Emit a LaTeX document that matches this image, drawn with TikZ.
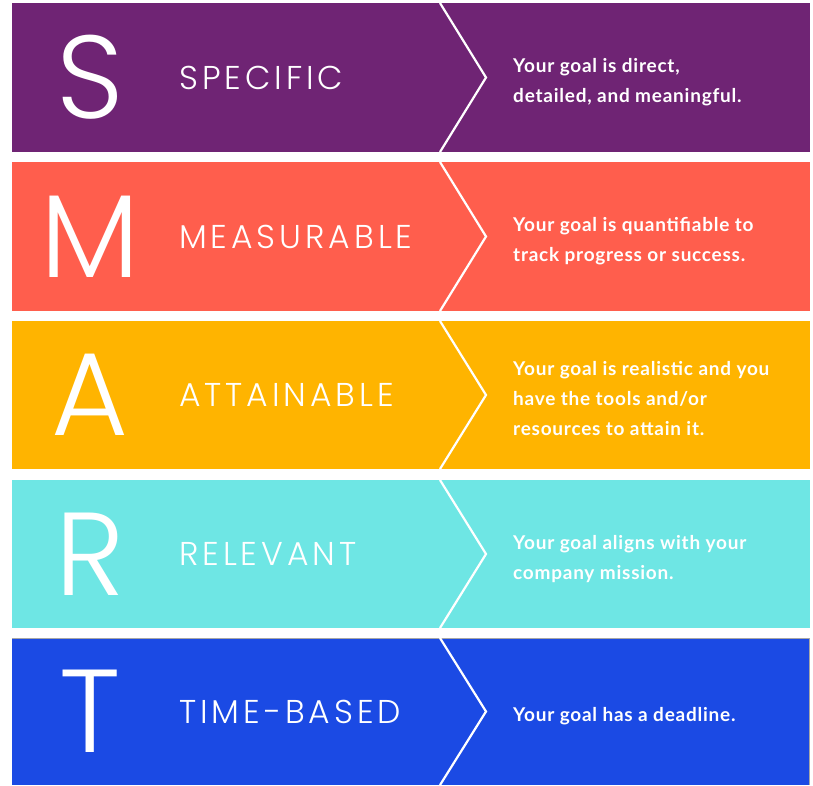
\documentclass[tikz,border=0pt]{standalone}
\usepackage{fontspec}
\setmainfont{Lato}
\newfontfamily\thinfont[UprightFont={* Light}, LetterSpace=12]{Poppins}
\newfontfamily\bigfont[UprightFont={* Light}]{Poppins}
\newfontfamily\descfont[UprightFont={* Bold}, LetterSpace=4]{Lato}
\definecolor{cS}{HTML}{6F2474}
\definecolor{cM}{HTML}{FF5E4D}
\definecolor{cA}{HTML}{FFB400}
\definecolor{cR}{HTML}{6EE6E4}
\definecolor{cT}{HTML}{1B4AE4}
\begin{document}
\begin{tikzpicture}[x=1pt,y=-1pt,
  letter/.style={text=white,font=\bigfont\fontsize{118}{118}\selectfont,anchor=center,inner sep=0pt},
  heading/.style={text=white,font=\thinfont\fontsize{33}{33}\selectfont,anchor=west,inner sep=0pt},
  desc/.style={text=white,font=\descfont\fontsize{19}{30}\selectfont,anchor=base west,inner sep=0pt},
  chev/.style={draw=white,line width=2.2pt}]
\useasboundingbox[fill=white] (0,0) rectangle (813,785);
\newcommand\band[8]{%
  \fill[#3] (12,#1) rectangle (810,#2);
  \coordinate (#4top) at (440,#1);
  \coordinate (#4tip) at (486,{(#1+#2)/2});
  \coordinate (#4bot) at (440,#2);
  \draw[chev] (#4top) -- (#4tip) -- (#4bot);
  \node[letter] (#4L) at (90,{(#1+#2)/2}) {#5};
  \node[heading] (#4H) at (179,{(#1+#2)/2}) {#6};
  \foreach \ln [count=\i] in {#8}{
    \node[desc] (#4D\i) at (513,{(#1+#2)/2+10+30*(\i-1)-15*(#7-1)}) {\ln};
  }
}
\band{3}{152}{cS}{s}{S}{SPECIFIC}{2}{{Your goal is direct,},{detailed, and meaningful.}}
\band{162}{311}{cM}{m}{M}{MEASURABLE}{2}{{Your goal is quantifiable to},{track progress or success.}}
\band{321}{469}{cA}{a}{A}{ATTAINABLE}{3}{{Your goal is realistic and you},{have the tools and/or},{resources to attain it.}}
\band{480}{628}{cR}{r}{R}{RELEVANT}{2}{{Your goal aligns with your},{company mission.}}
\fill[cT] (12,638) rectangle (810,785);
\draw[gray!70,line width=0.8pt] (12,638.4) -- (809.6,638.4) -- (809.6,785);
\coordinate (ttop) at (440,638);
\coordinate (ttip) at (486,711.5);
\coordinate (tbot) at (440,785);
\draw[chev] (ttop) -- (ttip) -- (tbot);
\node[letter] (tL) at (90,711.5) {T};
\node[heading] (tH) at (179,711.5) {TIME-BASED};
\node[desc] (tD1) at (513,721.5) {Your goal has a deadline.};
\end{tikzpicture}
\end{document}
